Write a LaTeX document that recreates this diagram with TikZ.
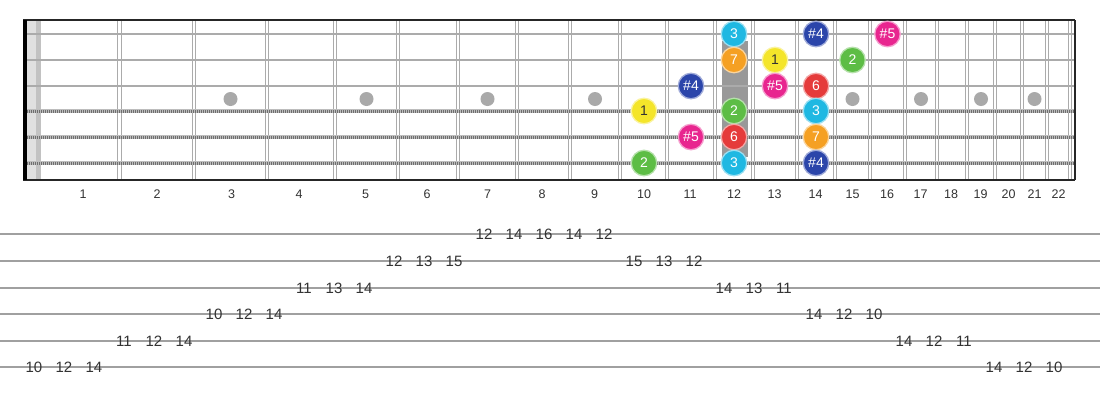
\documentclass[tikz,border=0pt]{standalone}
\usepackage{fontspec}
\setmainfont{Liberation Sans}
\definecolor{cthree}{HTML}{1FB8E2}
\definecolor{cfour}{HTML}{2B45AA}
\definecolor{cfive}{HTML}{E8268F}
\definecolor{ctwo}{HTML}{5DBD45}
\definecolor{cseven}{HTML}{F5A023}
\definecolor{cone}{HTML}{F4E52A}
\definecolor{csix}{HTML}{E53B3B}
\definecolor{fretc}{HTML}{ABABAB}
\definecolor{stringc}{HTML}{ABABAB}
\definecolor{woundc}{HTML}{BDBDBD}
\definecolor{wounddark}{HTML}{6E6E6E}
\definecolor{inlay}{HTML}{A9A9A9}
\definecolor{txt}{HTML}{333333}
\definecolor{tabc}{HTML}{A0A0A0}
\begin{document}
\begin{tikzpicture}[x=1pt,y=-1pt,
  deg/.style={circle,minimum size=25.5pt,inner sep=0pt,line width=1.3pt,
    font=\fontsize{14}{14}\selectfont,text=white},
  dthree/.style={deg,fill=cthree,draw=cthree!45!white},
  dfour/.style={deg,fill=cfour,draw=cfour!45!white},
  dfive/.style={deg,fill=cfive,draw=cfive!45!white},
  dtwo/.style={deg,fill=ctwo,draw=ctwo!45!white},
  dseven/.style={deg,fill=cseven,draw=cseven!45!white},
  done/.style={deg,fill=cone,draw=cone!45!white,text=txt},
  dsix/.style={deg,fill=csix,draw=csix!45!white},
  fretline/.style={draw=fretc,line width=1.1pt},
  plainstring/.style={draw=stringc,line width=2.4pt},
  woundstring/.style={draw=woundc,line width=3.4pt},
  woundhatch/.style={draw=wounddark,line width=3pt,dash pattern=on 0.9pt off 1.1pt},
  dot/.style={circle,fill=inlay,minimum size=14pt,inner sep=0pt},
  fretlab/.style={font=\fontsize{12.5}{12.5}\selectfont,text=txt},
  tabline/.style={draw=tabc,line width=1.5pt},
  tabnum/.style={font=\fontsize{15}{15}\selectfont,text=txt,inner sep=0pt}
]
\useasboundingbox[fill=white] (0,0) rectangle (1100,400);

% fretboard background
\fill[white] (23,20) rectangle (1075,180);
\fill[black!12] (27,20) rectangle (36,180);
\fill[black!24] (36,20) rectangle (41,180);

% highlighted position rectangle
\fill[black!40] (722,41) rectangle (748,157);

% frets (double lines)
\foreach \fx in {119.5,194,267,335,398,458,517,570,620,667,715,753,797,835,870,905,937,967,995,1022,1047,1070}{
  \draw[fretline] (\fx-1.6,20) -- (\fx-1.6,180);
  \draw[fretline] (\fx+1.6,20) -- (\fx+1.6,180);
}

% inlay dots
\foreach \dx/\nm in {230.5/3,366.5/5,487.5/7,595/9,852.5/15,921/17,981/19,1034.5/21}{
  \node[dot] (inlay\nm) at (\dx,99) {};
}

% strings
\foreach \sy in {34,60,86}{
  \draw[plainstring] (23,\sy) -- (1075,\sy);
}
\foreach \sy in {111,137,163}{
  \draw[woundstring] (23,\sy) -- (1075,\sy);
  \draw[woundhatch] (23,\sy) -- (1075,\sy);
}

% borders and nut
\draw[black!85,line width=1.8pt] (23,20) -- (1075,20);
\draw[black!85,line width=1.8pt] (23,180) -- (1075,180);
\draw[black!85,line width=2pt] (1074.5,20) -- (1074.5,180);
\fill[black] (23,20) rectangle (27,180);

% notes
\node[dthree] (n1-12) at (734,34) {3};
\node[dfour]  (n1-14) at (816,34) {\#4};
\node[dfive]  (n1-16) at (887.5,34) {\#5};
\node[dseven] (n2-12) at (734,60) {7};
\node[done]   (n2-13) at (775,60) {1};
\node[dtwo]   (n2-15) at (852.5,60) {2};
\node[dfour]  (n3-11) at (691,86) {\#4};
\node[dfive]  (n3-13) at (775,86) {\#5};
\node[dsix]   (n3-14) at (816,86) {6};
\node[done]   (n4-10) at (644,111) {1};
\node[dtwo]   (n4-12) at (734,111) {2};
\node[dthree] (n4-14) at (816,111) {3};
\node[dfive]  (n5-11) at (691,137) {\#5};
\node[dsix]   (n5-12) at (734,137) {6};
\node[dseven] (n5-14) at (816,137) {7};
\node[dtwo]   (n6-10) at (644,163) {2};
\node[dthree] (n6-12) at (734,163) {3};
\node[dfour]  (n6-14) at (816,163) {\#4};

% fret numbers
\foreach \lx/\nm in {83/1,157/2,231.5/3,299/4,365.5/5,427/6,487.5/7,542/8,594.5/9,644/10,690/11,734/12,774.5/13,815.5/14,852.5/15,887/16,920.5/17,951/18,980.5/19,1008.5/20,1034.5/21,1058.5/22}{
  \node[fretlab] (lab\nm) at (\lx,194) {\nm};
}

% tablature lines
\foreach \ty in {234,261,288,314,341,367}{
  \draw[tabline] (0,\ty) -- (1100,\ty);
}

% tablature numbers
\foreach \i/\ty/\v in {0/367/10,1/367/12,2/367/14,
  3/341/11,4/341/12,5/341/14,
  6/314/10,7/314/12,8/314/14,
  9/288/11,10/288/13,11/288/14,
  12/261/12,13/261/13,14/261/15,
  15/234/12,16/234/14,17/234/16,18/234/14,19/234/12,
  20/261/15,21/261/13,22/261/12,
  23/288/14,24/288/13,25/288/11,
  26/314/14,27/314/12,28/314/10,
  29/341/14,30/341/12,31/341/11,
  32/367/14,33/367/12,34/367/10}{
  \node[tabnum] (t\i) at (34+30*\i,\ty) {\v};
}
\end{tikzpicture}
\end{document}
